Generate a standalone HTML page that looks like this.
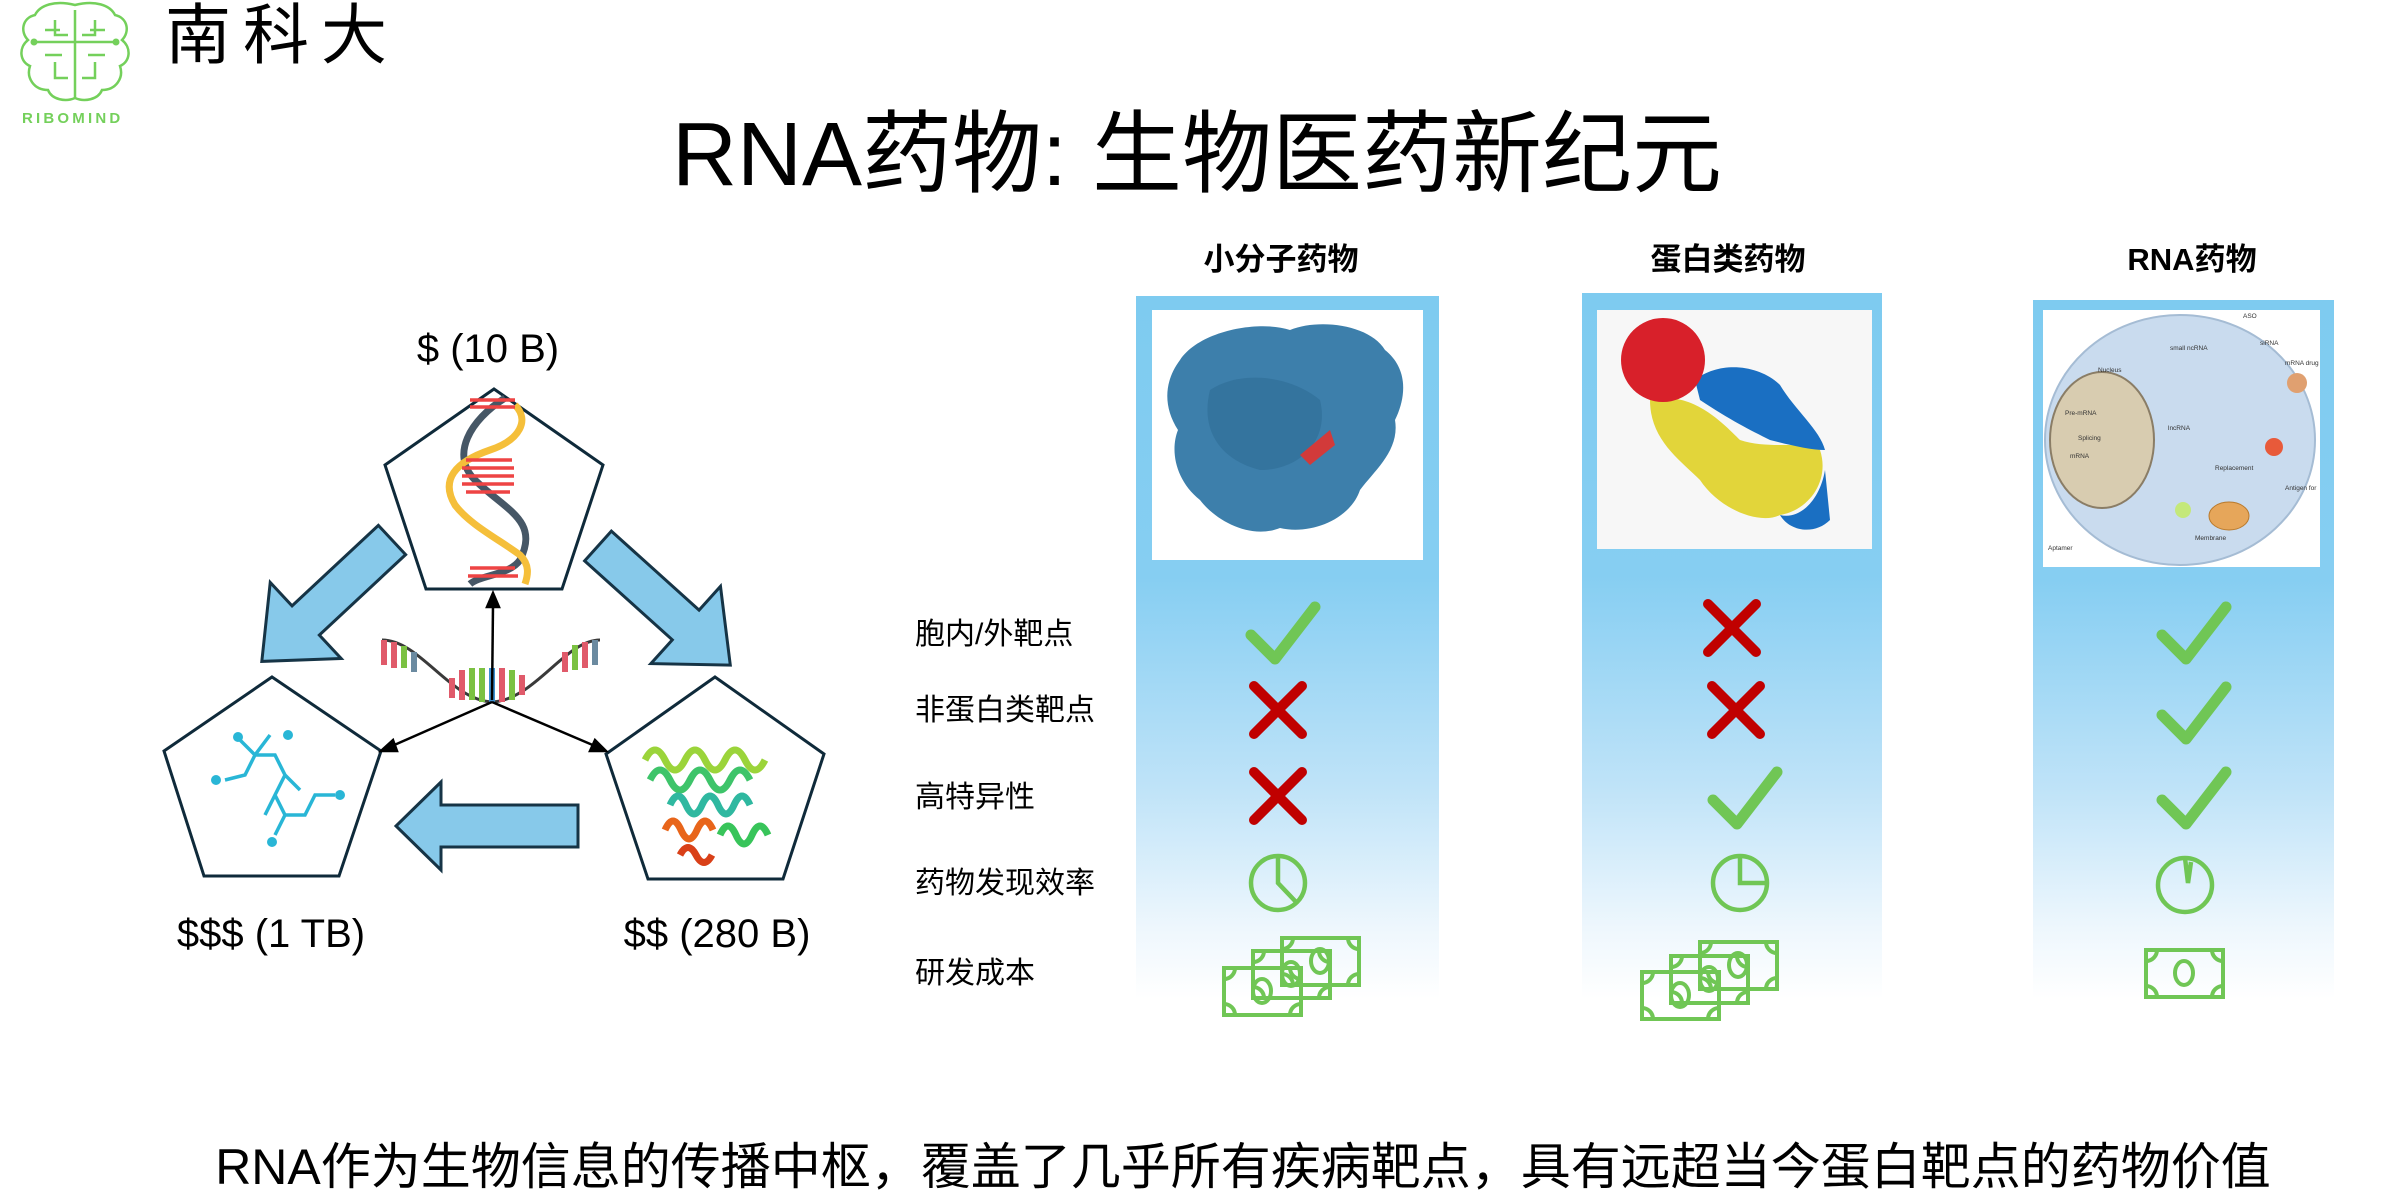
<!DOCTYPE html>
<html><head><meta charset="utf-8"><style>
html,body{margin:0;padding:0;background:#fff;}
svg{display:block;}
text{font-family:"Liberation Sans","Noto Sans CJK SC",sans-serif;}
</style></head><body>
<svg width="2392" height="1196" viewBox="0 0 2392 1196" xmlns="http://www.w3.org/2000/svg">
<defs>
<linearGradient id="band" x1="0" y1="0" x2="0" y2="1">
<stop offset="0" stop-color="#7ecbf0"/><stop offset="0.4" stop-color="#86cef2"/>
<stop offset="0.7" stop-color="#bfe3f8"/><stop offset="0.9" stop-color="#eef7fd"/><stop offset="1" stop-color="#ffffff"/>
</linearGradient>
<g id="chk"><path d="M-32,2 L-8,26 L32,-26" fill="none" stroke="#70c655" stroke-width="11" stroke-linecap="round" stroke-linejoin="round"/></g>
<g id="xx"><path d="M-24,-24 L24,24 M24,-24 L-24,24" fill="none" stroke="#c00000" stroke-width="10" stroke-linecap="round"/></g>
<g id="bill" fill="none" stroke="#70c655" stroke-width="4">
<rect x="0" y="0" width="77" height="47"/>
<path d="M0,11 A11,11 0 0 0 11,0 M66,0 A11,11 0 0 0 77,11 M0,36 A11,11 0 0 1 11,47 M66,47 A11,11 0 0 1 77,36"/>
<ellipse cx="38" cy="23" rx="9" ry="12"/>
</g>
</defs>

<!-- logo -->
<g fill="none" stroke="#74d05b" stroke-width="2.5">
<path d="M75,5 C55,0 40,5 35,15 C22,18 20,32 28,40 C18,48 20,62 30,66 C26,78 34,90 48,90 C52,100 66,102 75,98 C84,102 98,100 102,90 C116,90 124,78 120,66 C130,62 132,48 122,40 C130,32 128,18 115,15 C110,5 95,0 75,5 Z"/>
<path d="M34,42 H116 M75,10 V98 M55,20 V35 H68 M95,20 V35 H82 M55,62 V78 H68 M95,62 V78 H82 M45,30 H60 M105,30 H90 M45,55 H62 M105,55 H88"/>
</g>
<circle cx="34" cy="42" r="3.5" fill="#74d05b"/><circle cx="116" cy="42" r="3.5" fill="#74d05b"/>
<text x="22" y="123" font-size="15" font-weight="bold" fill="#74d05b" letter-spacing="3.2">RIBOMIND</text>
<text x="165" y="58" font-size="66" fill="#000" letter-spacing="12">南科大</text>

<!-- title -->
<text x="1197" y="185" font-size="90" text-anchor="middle" fill="#000">RNA药物: 生物医药新纪元</text>

<!-- left diagram -->
<text x="488" y="362" font-size="40" text-anchor="middle" fill="#000">$ (10 B)</text>
<text x="271" y="947" font-size="40" text-anchor="middle" fill="#000">$$$ (1 TB)</text>
<text x="717" y="947" font-size="40" text-anchor="middle" fill="#000">$$ (280 B)</text>

<g fill="#87c9ea" stroke="#163446" stroke-width="3" stroke-linejoin="miter">
<polygon transform="translate(392,540) rotate(137)" points="0,-20 118,-20 118,-52 178,0 118,52 118,20 0,20"/>
<polygon transform="translate(598,546) rotate(42)" points="0,-20 118,-20 118,-52 178,0 118,52 118,20 0,20"/>
<polygon points="578,805 441,805 441,782 396,826 441,870 441,847 578,847"/>
</g>

<g fill="#fff" stroke="#0f2a3a" stroke-width="3">
<polygon points="494,389 603,465 562,589 426,589 385,465"/>
<polygon points="272,677 381,751 339,876 204,876 164,751"/>
<polygon points="715,677 824,754 783,879 648,879 606,754"/>
</g>

<!-- DNA -->
<g stroke-width="7" fill="none">
<path d="M505,398 C470,420 450,455 475,480 C505,510 540,520 520,560 C510,575 480,575 470,584" stroke="#465766"/>
<path d="M515,405 C530,420 520,440 490,450 C455,462 440,480 455,505 C470,525 500,540 520,555 C530,565 528,575 525,584" stroke="#f5bf3a"/>
</g>
<g stroke="#ee4444" stroke-width="3.5">
<line x1="470" y1="400" x2="515" y2="400"/><line x1="470" y1="407" x2="515" y2="407"/>
<line x1="466" y1="460" x2="512" y2="460"/><line x1="462" y1="468" x2="514" y2="468"/><line x1="462" y1="476" x2="514" y2="476"/><line x1="462" y1="484" x2="514" y2="484"/><line x1="466" y1="492" x2="510" y2="492"/>
<line x1="470" y1="568" x2="515" y2="568"/><line x1="468" y1="576" x2="518" y2="576"/>
</g>

<!-- molecule -->
<g stroke="#29b6d6" stroke-width="3.5" fill="none">
<path d="M240,740 L255,755 L245,775 L225,780 M255,755 L275,755 L285,775 L275,795 L285,815 L305,815 L315,795 L335,795 M285,775 L300,790 M275,795 L265,815 M285,815 L275,835 M255,755 L270,735"/>
</g>
<g fill="#29b6d6"><circle cx="238" cy="737" r="5"/><circle cx="288" cy="735" r="5"/><circle cx="216" cy="780" r="5"/><circle cx="340" cy="795" r="5"/><circle cx="272" cy="842" r="5"/></g>

<!-- protein right -->
<g fill="none" stroke-width="7">
<path d="M645,760 q10,-20 20,0 q10,20 20,0 q10,-20 20,0 q10,20 20,0 q10,-20 20,0 q10,20 20,0" stroke="#9bd43a"/>
<path d="M650,780 q10,-20 20,0 q10,20 20,0 q10,-20 20,0 q10,20 20,0 q10,-20 20,0" stroke="#3ec46a"/>
<path d="M670,805 q8,-18 16,0 q8,18 16,0 q8,-18 16,0 q8,18 16,0 q8,-18 16,0" stroke="#2fb8a0"/>
<path d="M665,830 q8,-18 16,0 q8,18 16,0 q8,-18 16,0" stroke="#e8651a"/>
<path d="M720,835 q8,-18 16,0 q8,18 16,0 q8,-18 16,0" stroke="#38c45a"/>
<path d="M680,855 q8,-15 16,0 q8,15 16,0" stroke="#d94018"/>
</g>

<!-- RNA strand -->
<path d="M382,640 C420,640 450,700 492,702 C535,700 565,640 600,640" fill="none" stroke="#3a3a3a" stroke-width="3"/>
<g stroke-width="6">
<line x1="384" y1="640" x2="384" y2="665" stroke="#e05a6a"/><line x1="394" y1="642" x2="394" y2="668" stroke="#e05a6a"/><line x1="404" y1="646" x2="404" y2="668" stroke="#7bc142"/><line x1="414" y1="652" x2="414" y2="672" stroke="#6b8aa0"/>
<line x1="452" y1="678" x2="452" y2="698" stroke="#e05a6a"/><line x1="462" y1="670" x2="462" y2="700" stroke="#e05a6a"/><line x1="472" y1="668" x2="472" y2="700" stroke="#7bc142"/><line x1="482" y1="668" x2="482" y2="702" stroke="#7bc142"/><line x1="492" y1="668" x2="492" y2="702" stroke="#3c8fd0"/><line x1="502" y1="668" x2="502" y2="702" stroke="#e05a6a"/><line x1="512" y1="670" x2="512" y2="700" stroke="#7bc142"/><line x1="522" y1="675" x2="522" y2="695" stroke="#e05a6a"/>
<line x1="565" y1="652" x2="565" y2="672" stroke="#e05a6a"/><line x1="575" y1="645" x2="575" y2="670" stroke="#7bc142"/><line x1="585" y1="642" x2="585" y2="668" stroke="#e05a6a"/><line x1="595" y1="640" x2="595" y2="665" stroke="#6b8aa0"/>
</g>
<g stroke="#000" stroke-width="2.5" fill="#000">
<line x1="492" y1="700" x2="493" y2="605"/><polygon points="493,593 487,607 499,607"/>
<line x1="492" y1="702" x2="392" y2="746"/><polygon points="381,751 393,740 397,751"/>
<line x1="492" y1="702" x2="595" y2="746"/><polygon points="606,751 590,751 595,740"/>
</g>

<!-- headers -->
<g font-size="31" font-weight="bold" text-anchor="middle" fill="#000">
<text x="1281" y="270">小分子药物</text><text x="1728" y="270">蛋白类药物</text><text x="2192" y="270">RNA药物</text>
</g>

<!-- bands -->
<rect x="1136" y="296" width="303" height="703" fill="url(#band)"/>
<rect x="1582" y="293" width="300" height="706" fill="url(#band)"/>
<rect x="2033" y="300" width="301" height="699" fill="url(#band)"/>

<!-- col1 image -->
<rect x="1152" y="310" width="271" height="250" fill="#fff"/>
<path d="M1180,360 C1200,330 1260,320 1290,330 C1320,318 1370,325 1385,350 C1410,370 1405,400 1395,420 C1400,450 1375,470 1360,490 C1350,520 1310,535 1280,528 C1250,540 1215,520 1200,500 C1175,480 1170,450 1178,430 C1162,405 1165,380 1180,360 Z" fill="#3d7fab"/>
<path d="M1210,390 C1240,370 1290,375 1320,400 C1330,440 1300,470 1260,470 C1220,460 1200,430 1210,390 Z" fill="#2f6c96" opacity="0.6"/>
<path d="M1300,455 L1330,430 L1335,445 L1310,465 Z" fill="#d23a3a"/>

<!-- col2 image -->
<rect x="1597" y="310" width="275" height="239" fill="#f7f7f7"/>
<path d="M1650,400 C1690,390 1720,420 1740,440 C1770,450 1800,440 1820,450 C1830,480 1810,510 1780,515 C1760,525 1720,510 1700,480 C1680,460 1650,440 1650,400 Z" fill="#e2d53a"/>
<path d="M1695,380 C1720,360 1760,365 1780,385 C1795,410 1820,430 1825,450 C1810,450 1790,445 1770,440 C1750,430 1730,420 1700,400 Z" fill="#1a6fc2"/>
<path d="M1780,515 C1800,520 1820,500 1825,470 L1830,520 C1815,535 1790,532 1780,515 Z" fill="#1a6fc2"/>
<circle cx="1663" cy="360" r="42" fill="#d8202a"/>

<!-- col3 image -->
<rect x="2043" y="310" width="277" height="257" fill="#fff"/>
<ellipse cx="2180" cy="440" rx="135" ry="125" fill="#c9dbee" stroke="#a5bcd4" stroke-width="2"/>
<ellipse cx="2102" cy="440" rx="52" ry="68" fill="#d8ccb0" stroke="#8a7d66" stroke-width="2"/>
<ellipse cx="2229" cy="516" rx="20" ry="14" fill="#e6a65a" stroke="#b97a2d"/>
<circle cx="2274" cy="447" r="9" fill="#e85a3a"/>
<circle cx="2183" cy="510" r="8" fill="#c4e87a"/>
<circle cx="2297" cy="383" r="10" fill="#e0a070"/>
<g font-size="6.5" fill="#333" font-family="Liberation Sans,sans-serif">
<text x="2098" y="372">Nucleus</text><text x="2170" y="350">small ncRNA</text><text x="2243" y="318">ASO</text><text x="2260" y="345">siRNA</text><text x="2285" y="365">mRNA drug</text>
<text x="2065" y="415">Pre-mRNA</text><text x="2078" y="440">Splicing</text><text x="2070" y="458">mRNA</text><text x="2168" y="430">lncRNA</text>
<text x="2215" y="470">Replacement</text><text x="2285" y="490">Antigen for</text><text x="2195" y="540">Membrane</text><text x="2048" y="550">Aptamer</text>
</g>

<!-- row labels -->
<g font-size="30" fill="#000">
<text x="915" y="644">胞内/外靶点</text><text x="915" y="720">非蛋白类靶点</text><text x="915" y="807">高特异性</text><text x="915" y="893">药物发现效率</text><text x="915" y="983">研发成本</text>
</g>

<!-- icons col1 -->
<use href="#chk" x="1283" y="633"/><use href="#xx" x="1278" y="710"/><use href="#xx" x="1278" y="796"/>
<!-- col2 -->
<use href="#xx" x="1732" y="628"/><use href="#xx" x="1736" y="710"/><use href="#chk" x="1745" y="798"/>
<!-- col3 -->
<use href="#chk" x="2194" y="633"/><use href="#chk" x="2194" y="713"/><use href="#chk" x="2194" y="798"/>

<!-- clocks -->
<g fill="none" stroke="#70c655" stroke-width="4.5">
<circle cx="1278" cy="883" r="27"/><path d="M1278,856 V883 L1297,903"/>
<circle cx="1740" cy="883" r="27"/><path d="M1740,856 V883 H1767"/>
<circle cx="2185" cy="885" r="27"/><path d="M2185,858 L2188,883 L2191,862"/>
</g>
<!-- money -->
<use href="#bill" x="1282" y="938"/><use href="#bill" x="1253" y="951"/><use href="#bill" x="1224" y="968"/>
<use href="#bill" x="1700" y="942"/><use href="#bill" x="1671" y="956"/><use href="#bill" x="1642" y="972"/>
<use href="#bill" x="2146" y="950"/>

<!-- bottom -->
<text x="1243" y="1184" font-size="50" text-anchor="middle" fill="#000">RNA作为生物信息的传播中枢，覆盖了几乎所有疾病靶点，具有远超当今蛋白靶点的药物价值</text>
</svg>
</body></html>
